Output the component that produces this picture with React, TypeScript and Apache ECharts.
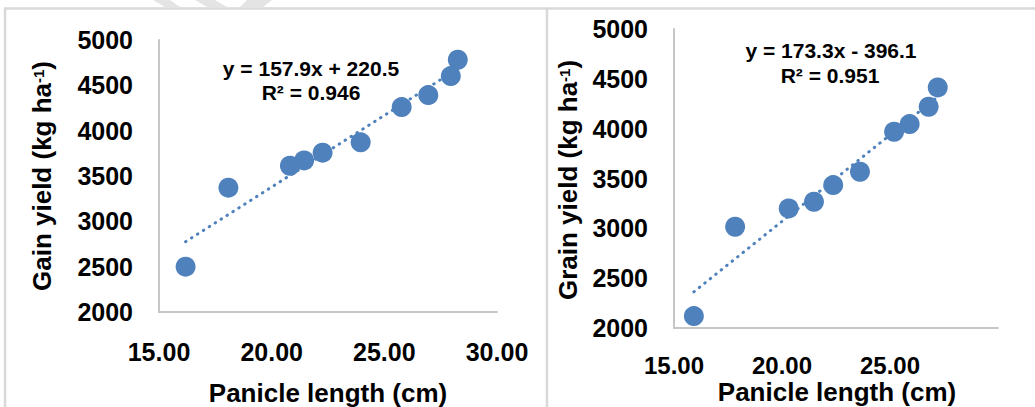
import React, { useEffect, useRef } from "react";
import * as echarts from "echarts";

// Left panel data: panicle length (cm) vs gain yield (kg/ha)
const leftLength = [16.18, 18.08, 20.81, 21.44, 22.26, 23.95, 25.77, 26.95, 27.95, 28.26];
const leftYield = [2500, 3371, 3613, 3672, 3757, 3871, 4260, 4392, 4602, 4782];
const leftSlope = 157.9;
const leftIntercept = 220.5;
const leftEquation = "y = 157.9x + 220.5";
const leftR2 = "R² = 0.946";

// Right panel data: panicle length (cm) vs grain yield (kg/ha)
const rightLength = [15.92, 17.83, 20.31, 21.48, 22.37, 23.61, 25.19, 25.91, 26.79, 27.21];
const rightYield = [2120, 3016, 3200, 3267, 3434, 3568, 3969, 4046, 4220, 4414];
const rightSlope = 173.3;
const rightIntercept = -396.1;
const rightEquation = "y = 173.3x - 396.1";
const rightR2 = "R² = 0.951";

const xTicks = [15, 20, 25, 30];
const yTicks = [2000, 2500, 3000, 3500, 4000, 4500, 5000];

const BLUE = "#4F81BD";
const FONT = "'Liberation Sans', Arial, sans-serif";

function trend(xs: number[], slope: number, intercept: number) {
  const lo = Math.min(...xs);
  const hi = Math.max(...xs);
  return [
    [lo, slope * lo + intercept],
    [hi, slope * hi + intercept],
  ];
}

export default function App() {
  const ref = useRef<HTMLDivElement>(null);
  useEffect(() => {
    if (!ref.current) return;
    const chart = echarts.init(ref.current, null, { renderer: "svg" });
    const axisLabelStyle = {
      color: "#000",
      fontFamily: FONT,
      fontWeight: "bold" as const,
      fontSize: 25,
      lineHeight: 20,
    };
    const axisLine = { show: true, lineStyle: { color: "#C6C6C6", width: 2 } };
    const mkX = (gridIndex: number, showMax: boolean, margin: number, fontSize: number) => ({
      type: "value",
      gridIndex,
      min: xTicks[0],
      max: xTicks[xTicks.length - 1],
      interval: 5,
      axisLine,
      axisTick: { show: false },
      splitLine: { show: false },
      axisLabel: {
        ...axisLabelStyle,
        fontSize,
        margin,
        showMaxLabel: showMax,
        formatter: (v: number) => v.toFixed(2),
      },
    });
    const mkY = (gridIndex: number) => ({
      type: "value",
      gridIndex,
      min: yTicks[0],
      max: yTicks[yTicks.length - 1],
      interval: 500,
      axisLine,
      axisTick: { show: false },
      splitLine: { show: false },
      axisLabel: { ...axisLabelStyle, margin: 26, formatter: (v: number) => String(v) },
    });
    const titleStyle = (text: string) => ({
      text,
      fill: "#000",
      font: `bold 26px ${FONT}`,
      align: "center",
      verticalAlign: "middle",
      lineHeight: 22,
      rich: {
        n: { fontFamily: FONT, fontWeight: "bold", fontSize: 26, lineHeight: 22 },
        sup: {
          fontFamily: FONT,
          fontWeight: "bold",
          fontSize: 15,
          lineHeight: 12,
          verticalAlign: "top",
        },
      },
    });
    const eqStyle = (text: string) => ({
      text,
      fill: "#000",
      font: `bold 21px ${FONT}`,
      align: "center",
      verticalAlign: "middle",
    });
    const frame = { stroke: "#D9D9D9", lineWidth: 2.5 };
    const wm = { fill: "#E4E4E4" };

    chart.setOption({
      animation: false,
      backgroundColor: "#fff",
      grid: [
        { left: 159, top: 40, width: 338, height: 272 },
        { left: 674, top: 29, width: 324, height: 299 },
      ],
      xAxis: [mkX(0, true, 30, 25), mkX(1, false, 27, 24)],
      yAxis: [mkY(0), mkY(1)],
      series: [
        {
          type: "line",
          xAxisIndex: 0,
          yAxisIndex: 0,
          data: trend(leftLength, leftSlope, leftIntercept),
          symbol: "none",
          lineStyle: { color: BLUE, width: 3, type: [0.5, 6.5], cap: "round" },
          z: 1,
        },
        {
          type: "scatter",
          xAxisIndex: 0,
          yAxisIndex: 0,
          data: leftLength.map((x, i) => [x, leftYield[i]]),
          symbolSize: 20,
          itemStyle: { color: BLUE, opacity: 1 },
          z: 2,
        },
        {
          type: "line",
          xAxisIndex: 1,
          yAxisIndex: 1,
          data: trend(rightLength, rightSlope, rightIntercept),
          symbol: "none",
          lineStyle: { color: BLUE, width: 3, type: [0.5, 6.5], cap: "round" },
          z: 1,
        },
        {
          type: "scatter",
          xAxisIndex: 1,
          yAxisIndex: 1,
          data: rightLength.map((x, i) => [x, rightYield[i]]),
          symbolSize: 20,
          itemStyle: { color: BLUE, opacity: 1 },
          z: 2,
        },
      ],
      graphic: [
        // watermark fragments
        { type: "polygon", shape: { points: [[153, 0], [170, 0], [180, 7], [165, 7]] }, style: wm, silent: true },
        { type: "polygon", shape: { points: [[195, 0], [215, 0], [227, 7], [207, 7]] }, style: wm, silent: true },
        { type: "polygon", shape: { points: [[247, 0], [272, 0], [263, 7], [240, 7]] }, style: wm, silent: true },
        // frame lines
        { type: "line", shape: { x1: 4, y1: 8.5, x2: 1035, y2: 8.5 }, style: frame, silent: true },
        { type: "line", shape: { x1: 5, y1: 8.5, x2: 5, y2: 407 }, style: frame, silent: true },
        { type: "line", shape: { x1: 547, y1: 8.5, x2: 547, y2: 407 }, style: frame, silent: true },
        // axis titles
        {
          type: "text",
          x: 42,
          y: 176,
          rotation: Math.PI / 2,
          style: titleStyle("{n|Gain yield (kg ha}{sup|-1}{n|)}"),
        },
        { type: "text", x: 328, y: 393, style: titleStyle("{n|Panicle length (cm)}") },
        {
          type: "text",
          x: 568,
          y: 180,
          rotation: Math.PI / 2,
          style: titleStyle("{n|Grain yield (kg ha}{sup|-1}{n|)}"),
        },
        { type: "text", x: 837, y: 392, style: titleStyle("{n|Panicle length (cm)}") },
        // regression equations
        { type: "text", x: 311, y: 68, style: eqStyle(leftEquation) },
        { type: "text", x: 311, y: 92, style: eqStyle(leftR2) },
        { type: "text", x: 831, y: 50, style: eqStyle(rightEquation) },
        { type: "text", x: 830, y: 75, style: eqStyle(rightR2) },
      ],
    });
    return () => chart.dispose();
  }, []);
  return (
    <div
      ref={ref}
      style={{ position: "absolute", left: 0, top: 0, width: 1035, height: 407, background: "#fff" }}
    />
  );
}
